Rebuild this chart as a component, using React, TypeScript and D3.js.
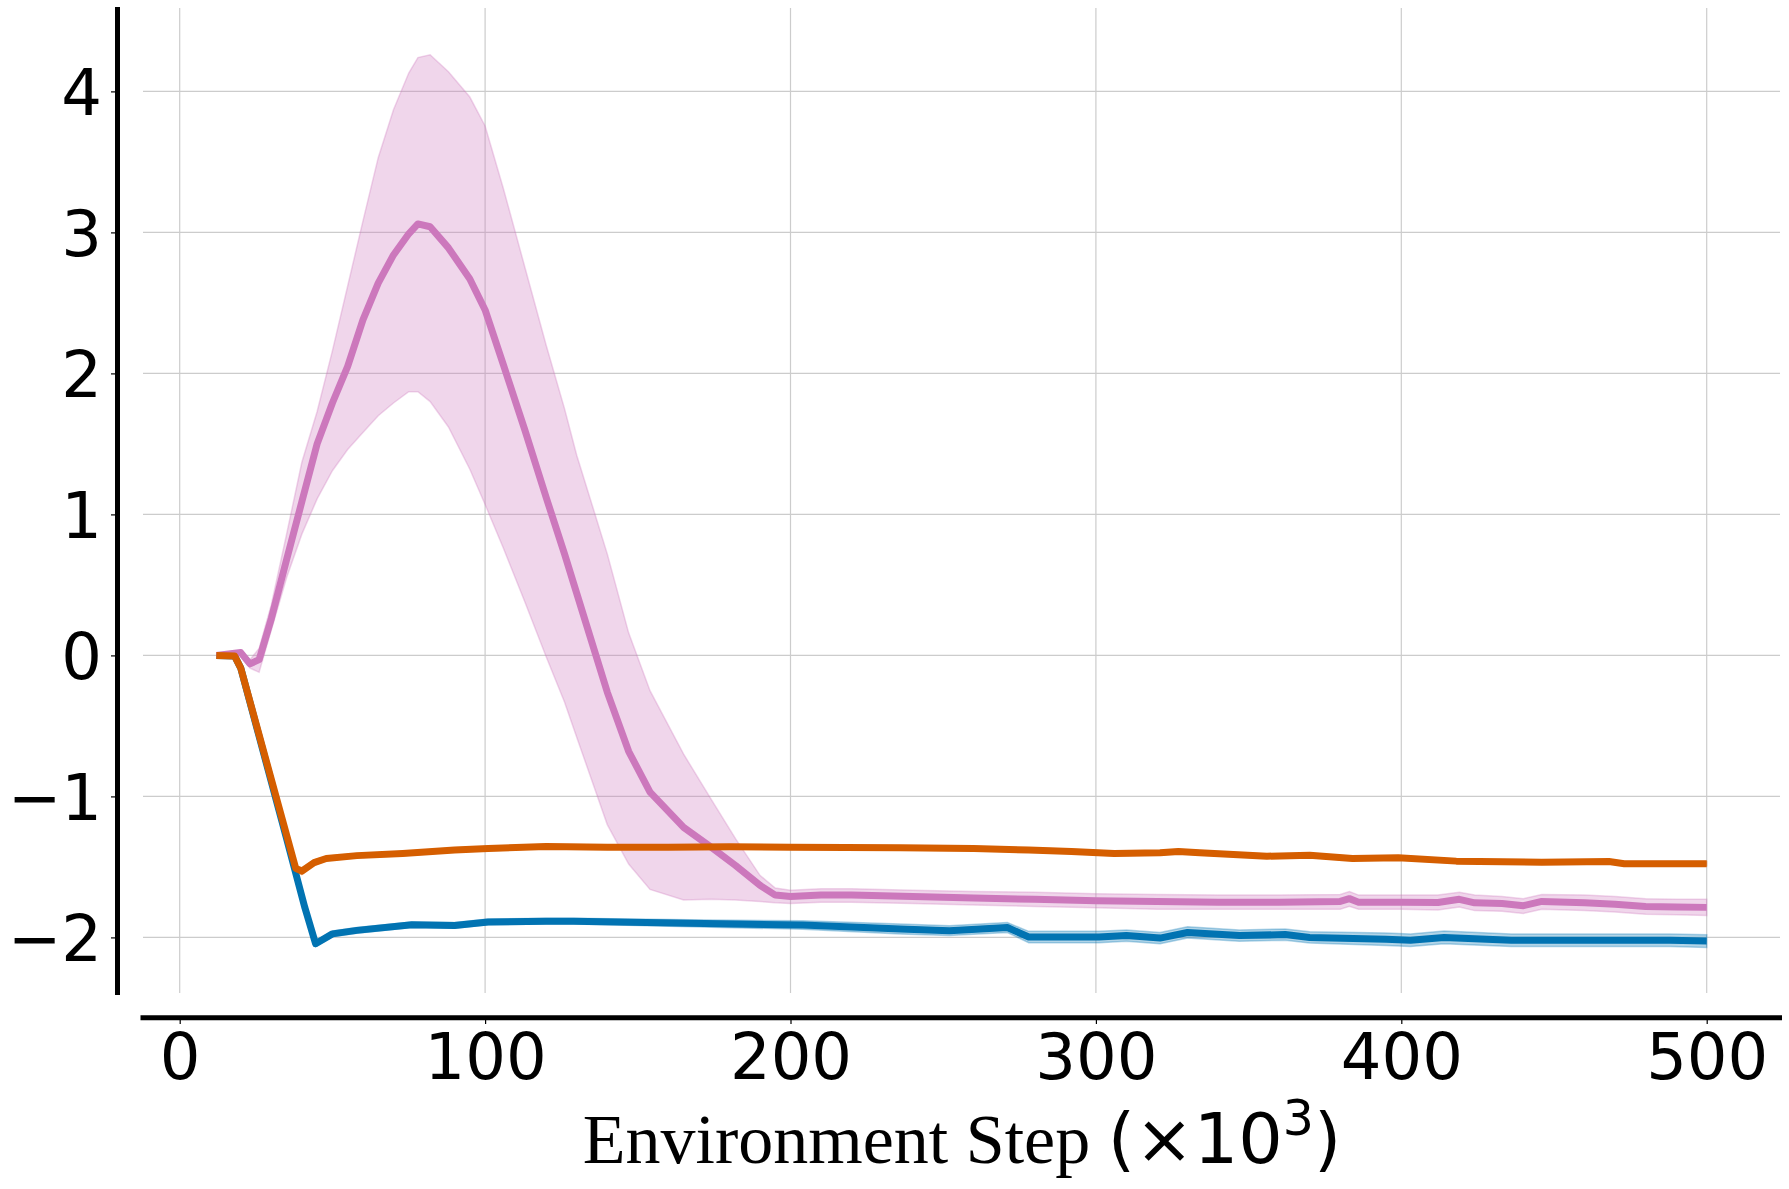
import React, { useEffect, useRef } from "react";
import * as d3 from "d3";

const xTicks = [0, 100, 200, 300, 400, 500];
const yTicks = [-2, -1, 0, 1, 2, 3, 4];

// pink run (mean with upper / lower band)
const pinkSteps = [12, 20, 23, 26, 30, 35, 40, 45, 50, 55, 60, 65, 70, 75, 78, 82, 88, 95, 100, 106, 113, 120, 126, 130, 140, 147, 154, 165, 174, 182, 190, 195, 200, 210, 220, 240, 260, 280, 300, 320, 340, 360, 380, 383, 386, 400, 412, 419, 424, 433, 440, 446, 460, 470, 480, 490, 500];
const pinkMean = [0, 0.02, -0.06, -0.03, 0.26, 0.68, 1.09, 1.5, 1.79, 2.05, 2.38, 2.64, 2.84, 2.99, 3.06, 3.04, 2.89, 2.67, 2.45, 2.06, 1.6, 1.12, 0.72, 0.44, -0.26, -0.68, -0.97, -1.22, -1.36, -1.49, -1.63, -1.7, -1.71, -1.7, -1.7, -1.71, -1.72, -1.73, -1.74, -1.745, -1.75, -1.75, -1.745, -1.725, -1.75, -1.75, -1.752, -1.73, -1.755, -1.76, -1.775, -1.745, -1.755, -1.765, -1.78, -1.785, -1.787];
const pinkUpper = [0, 0.03, -0.03, 0.05, 0.36, 0.86, 1.37, 1.73, 2.16, 2.62, 3.08, 3.53, 3.87, 4.13, 4.24, 4.26, 4.14, 3.96, 3.755, 3.31, 2.755, 2.2, 1.75, 1.42, 0.72, 0.16, -0.25, -0.7, -1.02, -1.3, -1.56, -1.65, -1.665, -1.655, -1.655, -1.665, -1.675, -1.68, -1.69, -1.695, -1.7, -1.7, -1.695, -1.675, -1.7, -1.7, -1.7, -1.68, -1.7, -1.71, -1.725, -1.695, -1.7, -1.71, -1.725, -1.73, -1.73];
const pinkLower = [0, 0.01, -0.09, -0.12, 0.18, 0.55, 0.86, 1.11, 1.31, 1.46, 1.58, 1.7, 1.79, 1.87, 1.87, 1.8, 1.62, 1.32, 1.07, 0.76, 0.38, -0.01, -0.33, -0.58, -1.2, -1.48, -1.66, -1.735, -1.73, -1.735, -1.745, -1.755, -1.76, -1.75, -1.75, -1.76, -1.77, -1.78, -1.79, -1.8, -1.8, -1.8, -1.8, -1.78, -1.8, -1.8, -1.805, -1.785, -1.81, -1.815, -1.83, -1.8, -1.81, -1.82, -1.835, -1.84, -1.845];

// orange run
const orangeSteps = [12, 18, 20, 38, 40, 44, 48, 58, 73, 90, 101, 120, 140, 160, 180, 200, 236, 260, 278, 292, 306, 321, 327, 334, 356, 370, 384, 399, 418, 446, 468, 473, 500];
const orangeMean = [0, -0.005, -0.09, -1.51, -1.53, -1.47, -1.44, -1.42, -1.405, -1.38, -1.37, -1.355, -1.36, -1.36, -1.357, -1.36, -1.365, -1.37, -1.38, -1.39, -1.405, -1.4, -1.39, -1.4, -1.424, -1.418, -1.44, -1.435, -1.459, -1.467, -1.462, -1.477, -1.477];
const orangeSpread = [0, 0, 0.005, 0.02, 0.025, 0.02, 0.015, 0.015, 0.015, 0.015, 0.015, 0.015, 0.015, 0.015, 0.015, 0.015, 0.015, 0.015, 0.015, 0.015, 0.015, 0.015, 0.015, 0.015, 0.015, 0.015, 0.015, 0.015, 0.015, 0.015, 0.015, 0.015, 0.015];

// blue run
const blueSteps = [12, 18, 20, 35, 41, 44.5, 50, 58, 76, 90, 101, 120, 129, 167, 204, 236, 252, 271, 278, 301, 310, 321, 330, 347, 362, 370, 395, 403, 414, 436, 459, 488, 500];
const blueMean = [0, -0.005, -0.09, -1.3, -1.79, -2.045, -1.975, -1.95, -1.91, -1.915, -1.89, -1.885, -1.885, -1.9, -1.912, -1.94, -1.952, -1.93, -1.997, -1.997, -1.987, -2.005, -1.965, -1.987, -1.98, -2.0, -2.013, -2.02, -2.0, -2.02, -2.02, -2.02, -2.026];
const blueSpread = [0, 0, 0.005, 0.01, 0.015, 0.02, 0.02, 0.02, 0.02, 0.02, 0.02, 0.02, 0.02, 0.025, 0.03, 0.035, 0.035, 0.035, 0.04, 0.04, 0.04, 0.04, 0.04, 0.04, 0.04, 0.04, 0.045, 0.045, 0.045, 0.045, 0.045, 0.045, 0.045];

type Pt = { x: number; m: number; lo: number; hi: number };

function App() {
  const svgRef = useRef<SVGSVGElement>(null);
  const width = 1789;
  const height = 1189;

  useEffect(() => {
    const svg = d3.select(svgRef.current);
    svg.selectAll("*").remove();

    const x = d3.scaleLinear().domain([-12, 524]).range([143.05, 1780]);
    const y = d3.scaleLinear().domain([-2.39, 4.59]).range([992.4, 8.2]);

    // grid
    const grid = svg.append("g");
    grid
      .selectAll(".vg")
      .data(xTicks)
      .join("line")
      .attr("x1", (d) => x(d))
      .attr("x2", (d) => x(d))
      .attr("y1", 8)
      .attr("y2", 993)
      .attr("stroke", "#cccccc")
      .attr("stroke-width", 1.2);
    grid
      .selectAll(".hg")
      .data(yTicks)
      .join("line")
      .attr("x1", 143)
      .attr("x2", 1780)
      .attr("y1", (d) => y(d))
      .attr("y2", (d) => y(d))
      .attr("stroke", "#cccccc")
      .attr("stroke-width", 1.2);

    const runs = [
      {
        color: "#0173b2",
        pts: blueSteps.map((s, i) => ({ x: s, m: blueMean[i], lo: blueMean[i] - blueSpread[i], hi: blueMean[i] + blueSpread[i] })),
      },
      {
        color: "#cc78bc",
        pts: pinkSteps.map((s, i) => ({ x: s, m: pinkMean[i], lo: pinkLower[i], hi: pinkUpper[i] })),
      },
      {
        color: "#d55e00",
        pts: orangeSteps.map((s, i) => ({ x: s, m: orangeMean[i], lo: orangeMean[i] - orangeSpread[i], hi: orangeMean[i] + orangeSpread[i] })),
      },
    ];

    const area = d3
      .area<Pt>()
      .x((d) => x(d.x))
      .y0((d) => y(d.lo))
      .y1((d) => y(d.hi));
    const line = d3
      .line<Pt>()
      .x((d) => x(d.x))
      .y((d) => y(d.m));

    runs.forEach((r) => {
      svg
        .append("path")
        .attr("d", area(r.pts))
        .attr("fill", r.color)
        .attr("fill-opacity", 0.3)
        .attr("stroke", r.color)
        .attr("stroke-opacity", 0.3)
        .attr("stroke-width", 1.5);
      svg
        .append("path")
        .attr("d", line(r.pts))
        .attr("fill", "none")
        .attr("stroke", r.color)
        .attr("stroke-width", 7)
        .attr("stroke-linejoin", "round");
    });

    // y axis
    const yAxis = d3
      .axisLeft(y)
      .tickValues(yTicks)
      .tickFormat(d3.format("d"))
      .tickSize(4)
      .tickPadding(9);
    const gy = svg.append("g").attr("transform", "translate(115,0)").call(yAxis);
    gy.select(".domain").remove();
    gy.selectAll("line").attr("stroke", "#000").attr("stroke-width", 1.2);
    gy.selectAll("text")
      .attr("font-family", "DejaVu Sans")
      .attr("font-size", 64)
      .attr("fill", "#000")
      .attr("dy", "0.36em");
    svg
      .append("line")
      .attr("x1", 117.5)
      .attr("x2", 117.5)
      .attr("y1", 7)
      .attr("y2", 995)
      .attr("stroke", "#000")
      .attr("stroke-width", 5);

    // x axis
    const xAxis = d3
      .axisBottom(x)
      .tickValues(xTicks)
      .tickFormat(d3.format("d"))
      .tickSize(4)
      .tickPadding(10);
    const gx = svg.append("g").attr("transform", "translate(0,1020)").call(xAxis);
    gx.select(".domain").remove();
    gx.selectAll("line").attr("stroke", "#000").attr("stroke-width", 1.2);
    gx.selectAll("text")
      .attr("font-family", "DejaVu Sans")
      .attr("font-size", 64)
      .attr("fill", "#000");
    svg
      .append("line")
      .attr("x1", 140.5)
      .attr("x2", 1782)
      .attr("y1", 1017.7)
      .attr("y2", 1017.7)
      .attr("stroke", "#000")
      .attr("stroke-width", 5);

    // x label
    const label = svg
      .append("text")
      .attr("x", 962)
      .attr("y", 1163)
      .attr("text-anchor", "middle")
      .attr("font-size", 70)
      .attr("fill", "#000");
    label.append("tspan").attr("font-family", "Liberation Serif").text("Environment Step ");
    label.append("tspan").attr("font-family", "DejaVu Sans").text("(×10");
    label.append("tspan").attr("font-family", "DejaVu Sans").attr("font-size", 49).attr("dy", -28).text("3");
    label.append("tspan").attr("font-family", "DejaVu Sans").attr("dy", 28).text(")");
  }, []);

  return (
    <svg
      ref={svgRef}
      width={width}
      height={height}
      style={{ position: "absolute", left: 0, top: 0, background: "#fff", display: "block" }}
    ></svg>
  );
}

export default App;
